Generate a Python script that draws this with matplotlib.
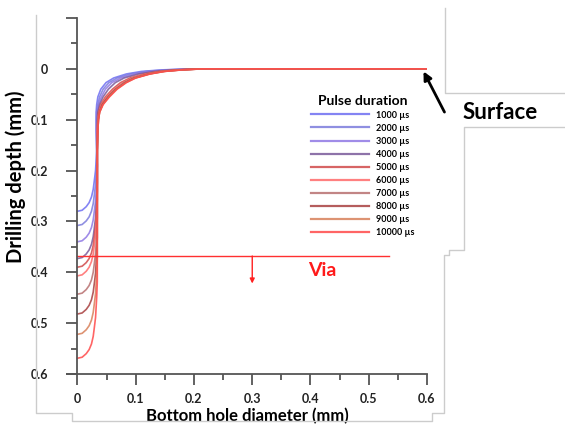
import matplotlib
matplotlib.use("Agg")
import matplotlib.pyplot as plt
from matplotlib.lines import Line2D

plt.rcParams['font.family'] = ['Lato', 'DejaVu Sans']

# pulse durations and the depth where each curve meets x = 0
pulses = ['1000 µs', '2000 µs', '3000 µs', '4000 µs', '5000 µs',
          '6000 µs', '7000 µs', '8000 µs', '9000 µs', '10000 µs']
bottom_depth = [0.280, 0.308, 0.340, 0.373, 0.390, 0.407, 0.443, 0.482, 0.522, 0.569]
colors = ['#6f6ff2', '#7c7cdc', '#8f78e4', '#7a5a9a', '#d04a4a',
          '#ff6a6a', '#b87070', '#a84040', '#d8805a', '#ff4a4a']

# upper bend of the hole wall: shared depths, x read per curve
top_depth = [0.16, 0.12, 0.10, 0.085, 0.07, 0.055, 0.04, 0.027, 0.018,
             0.010, 0.005, 0.002, 0.0]
top_x = [
    [0.033, 0.032, 0.0320, 0.032, 0.033, 0.035, 0.040, 0.049, 0.062, 0.084, 0.110, 0.145, 0.200],
    [0.033, 0.0325, 0.0325, 0.033, 0.035, 0.038, 0.044, 0.054, 0.068, 0.091, 0.118, 0.152, 0.202],
    [0.033, 0.033, 0.0335, 0.034, 0.036, 0.041, 0.048, 0.059, 0.074, 0.098, 0.125, 0.158, 0.205],
    [0.034, 0.034, 0.034, 0.035, 0.038, 0.044, 0.053, 0.065, 0.080, 0.105, 0.132, 0.163, 0.208],
    [0.034, 0.034, 0.035, 0.036, 0.040, 0.048, 0.060, 0.074, 0.090, 0.115, 0.140, 0.170, 0.210],
    [0.034, 0.034, 0.035, 0.037, 0.041, 0.050, 0.063, 0.078, 0.094, 0.118, 0.144, 0.173, 0.212],
    [0.034, 0.035, 0.0355, 0.037, 0.042, 0.052, 0.065, 0.080, 0.096, 0.121, 0.146, 0.176, 0.213],
    [0.034, 0.035, 0.036, 0.038, 0.043, 0.053, 0.066, 0.082, 0.098, 0.123, 0.148, 0.178, 0.214],
    [0.034, 0.035, 0.036, 0.038, 0.044, 0.054, 0.067, 0.083, 0.099, 0.124, 0.149, 0.179, 0.215],
    [0.034, 0.035, 0.036, 0.038, 0.044, 0.055, 0.068, 0.084, 0.100, 0.125, 0.150, 0.180, 0.215],
]
# lower corner of the hole: rise above the bottom depth vs x
corner_rise = [0.0, 0.002, 0.009, 0.017, 0.028, 0.043, 0.061, 0.080, 0.100, 0.120, 0.150]
corner_x = [0.0, 0.008, 0.015, 0.020, 0.024, 0.027, 0.029, 0.031, 0.032, 0.033, 0.034]

surface_end = 0.6
via_depth = 0.368
via_end = 0.535

fig = plt.figure(figsize=(5.65, 4.32), dpi=100)
ax = fig.add_axes([67 / 565, 58 / 432, 360 / 565, 356 / 432])

for i in range(len(pulses)):
    # lower corner (only the part below the bend), wall, bend, flat surface
    xs, ys = [], []
    for cx, r in zip(corner_x, corner_rise):
        if bottom_depth[i] - r > top_depth[0]:
            xs.append(cx)
            ys.append(bottom_depth[i] - r)
    xs = xs + top_x[i] + [surface_end]
    ys = ys + top_depth + [0.0]
    ax.plot(xs, ys, color=colors[i], lw=1.2, alpha=0.85, label=pulses[i],
            solid_joinstyle='round')

# via level
ax.plot([0, via_end], [via_depth, via_depth], color='#ff3030', lw=1.0)
ax.annotate('', xy=(0.30, 0.422), xytext=(0.30, via_depth),
            arrowprops=dict(arrowstyle='-|>', color='#ff2020', lw=1.0,
                            mutation_scale=7, shrinkA=0, shrinkB=0))
ax.text(0.42, 0.397, 'Via', color='#ff1a1a', fontsize=14, fontweight='bold',
        ha='center', va='center')

# surface marker
ax.annotate('', xy=(0.594, 0.005), xytext=(0.630, 0.085),
            arrowprops=dict(arrowstyle='-|>', color='black', lw=2.0,
                            mutation_scale=12, shrinkA=0, shrinkB=0),
            annotation_clip=False)
ax.text(0.661, 0.086, 'Surface', fontsize=16, fontweight='bold',
        ha='left', va='center', clip_on=False)

ax.set_xlim(-0.018, 0.6)
ax.set_ylim(0.6, -0.1)
ax.spines['top'].set_visible(False)
ax.spines['right'].set_visible(False)
ax.spines['left'].set_position(('data', 0))
for s in ('left', 'bottom'):
    ax.spines[s].set_color('#555555')
    ax.spines[s].set_linewidth(1.3)

ax.set_xticks([0, 0.1, 0.2, 0.3, 0.4, 0.5, 0.6])
ax.set_xticklabels(['0', '0.1', '0.2', '0.3', '0.4', '0.5', '0.6'])
ax.set_xticks([0.05, 0.15, 0.25, 0.35, 0.45, 0.55], minor=True)
ax.set_yticks([-0.1, 0, 0.1, 0.2, 0.3, 0.4, 0.5, 0.6])
ax.set_yticklabels(['', '0', '0.1', '0.2', '0.3', '0.4', '0.5', '0.6'])
ax.set_yticks([-0.05, 0.05, 0.15, 0.25, 0.35, 0.45, 0.55], minor=True)
ax.tick_params(which='major', length=8, width=1.3, color='#555555',
               labelsize=9, labelcolor='#222222')
ax.tick_params(which='minor', length=4, width=1.3, color='#555555')
ax.tick_params(axis='y', which='major', pad=13)
ax.tick_params(axis='x', which='major', pad=6)
for lab in ax.get_xticklabels() + ax.get_yticklabels():
    lab.set_fontweight('bold')

ax.set_xlabel('Bottom hole diameter (mm)', fontsize=12, fontweight='bold',
              labelpad=2)
ax.set_ylabel('Drilling depth (mm)', fontsize=14.5, fontweight='bold')
ax.yaxis.set_label_coords(-0.115, 0.555, transform=ax.transAxes)

leg = ax.legend(loc='upper left', bbox_to_anchor=(306 / 565, 1 - 90 / 432),
                bbox_transform=fig.transFigure, frameon=False,
                title='Pulse duration', fontsize=6.5, handlelength=6.5,
                handletextpad=0.8, labelspacing=0.45, borderpad=0)
leg.get_title().set_fontweight('bold')
leg.get_title().set_fontsize(10)
for t in leg.get_texts():
    t.set_fontweight('bold')
for h in leg.get_lines():
    h.set_linewidth(1.6)

# light grey outline left around the chart
frame = [
    [(36, 15), (36, 413), (72, 413), (72, 421), (432, 421), (432, 413),
     (444, 413), (444, 255), (449, 255), (449, 250), (464, 250), (464, 127),
     (565, 127)],
    [(445, 8), (445, 93), (565, 93)],
]
for path in frame:
    px = [p[0] / 565 for p in path]
    py = [1 - p[1] / 432 for p in path]
    fig.add_artist(Line2D(px, py, color='#cccccc', lw=1.0))

fig.savefig('out.png', dpi=100)
